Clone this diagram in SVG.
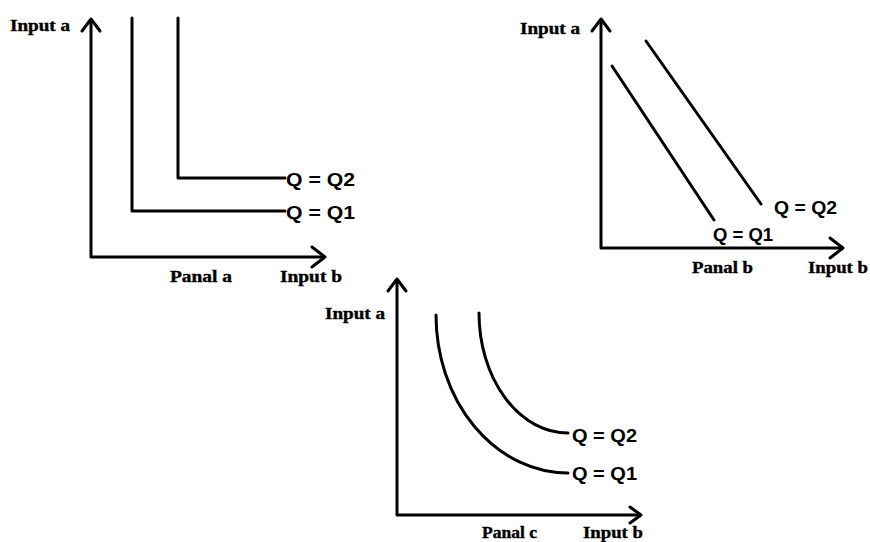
<svg xmlns="http://www.w3.org/2000/svg" width="870" height="542" viewBox="0 0 870 542">
<style>
.ax{fill:none;stroke:#000;stroke-width:3;stroke-linecap:round;stroke-linejoin:round}
.cv{fill:none;stroke:#000;stroke-width:3;stroke-linecap:round;stroke-linejoin:round}
.lb{font-family:"Liberation Serif",serif;font-weight:bold;font-size:17px;fill:#000;stroke:#000;stroke-width:0.4}
.q{font-family:"Liberation Sans",Arial,sans-serif;font-weight:bold;font-size:18px;fill:#000}
</style>
<rect width="870" height="542" fill="#fff"/>
<g id="panel-a">
  <path class="ax" d="M91,20 V257 H324"/>
  <path class="ax" d="M82,31 L91,19 L100,31"/>
  <path class="ax" d="M312,247 L325,257 L312,267"/>
  <text class="lb" x="10" y="31" textLength="60" lengthAdjust="spacingAndGlyphs">Input a</text>
  <text class="lb" x="170" y="282" textLength="62" lengthAdjust="spacingAndGlyphs">Panal a</text>
  <text class="lb" x="280" y="282" textLength="62" lengthAdjust="spacingAndGlyphs">Input b</text>
  <g id="a-q1">
    <path class="cv" d="M132,18 V211 H285"/>
    <text class="q" x="286" y="219" textLength="69" lengthAdjust="spacingAndGlyphs">Q = Q1</text>
  </g>
  <g id="a-q2">
    <path class="cv" d="M178,18 V178 H285"/>
    <text class="q" x="286" y="186" textLength="69" lengthAdjust="spacingAndGlyphs">Q = Q2</text>
  </g>
</g>
<g id="panel-b">
  <path class="ax" d="M601,20 V248 H842"/>
  <path class="ax" d="M592,31 L601,19 L610,31"/>
  <path class="ax" d="M830,238 L843,248 L830,258"/>
  <text class="lb" x="520" y="34" textLength="60" lengthAdjust="spacingAndGlyphs">Input a</text>
  <text class="lb" x="692" y="273" textLength="61" lengthAdjust="spacingAndGlyphs">Panal b</text>
  <text class="lb" x="808" y="273" textLength="60" lengthAdjust="spacingAndGlyphs">Input b</text>
  <g id="b-q1">
    <path class="cv" d="M612,66 L714,220"/>
    <text class="q" x="713" y="241" textLength="60" lengthAdjust="spacingAndGlyphs">Q = Q1</text>
  </g>
  <g id="b-q2">
    <path class="cv" d="M646,41 L761,204"/>
    <text class="q" x="774" y="214" textLength="63" lengthAdjust="spacingAndGlyphs">Q = Q2</text>
  </g>
</g>
<g id="panel-c">
  <path class="ax" d="M397,280 V515 H640"/>
  <path class="ax" d="M388,291 L397,279 L406,291"/>
  <path class="ax" d="M630,507 L641,515 L630,523"/>
  <text class="lb" x="325" y="319" textLength="60" lengthAdjust="spacingAndGlyphs">Input a</text>
  <text class="lb" x="482" y="538" textLength="55" lengthAdjust="spacingAndGlyphs" font-size="15">Panal c</text>
  <text class="lb" x="583" y="538" textLength="60" lengthAdjust="spacingAndGlyphs" font-size="15">Input b</text>
  <g id="c-q1">
    <path class="cv" d="M436,315 A132,158 0 0 0 568,473"/>
    <text class="q" x="572" y="480" textLength="65" lengthAdjust="spacingAndGlyphs">Q = Q1</text>
  </g>
  <g id="c-q2">
    <path class="cv" d="M479,313 A89,120 0 0 0 568,433"/>
    <text class="q" x="572" y="442" textLength="65" lengthAdjust="spacingAndGlyphs">Q = Q2</text>
  </g>
</g>
</svg>
